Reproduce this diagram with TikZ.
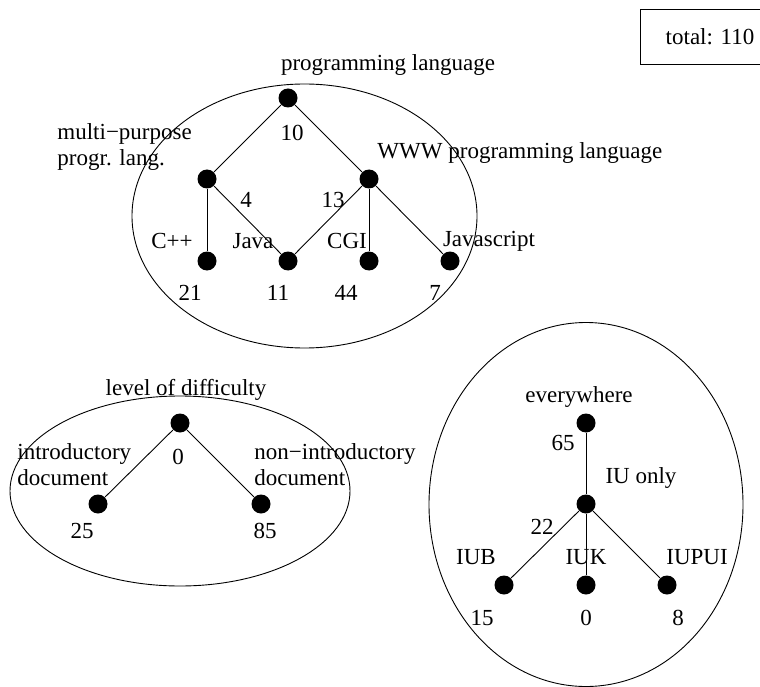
\documentclass[tikz,border=0pt]{standalone}
\usepackage{fontspec}
\setmainfont{Liberation Serif}
\begin{document}
\begin{tikzpicture}[x=1pt, y=-1pt, inner sep=1pt, line width=0.9pt, font=\fontsize{23}{26}\selectfont,
      dot/.style={circle, fill, inner sep=0pt, minimum size=19pt}]
   \useasboundingbox (0,0) rectangle (760,687);
   \node[draw, minimum width=140pt, minimum height=55pt] (T) at (710,36.5) {total: 110};
   % programming language
   \draw (304.5,216) ellipse (172.5 and 132);
   \node[dot] (P) at (288,98) {};
   \node[dot] (P2) at (207,179) {};
   \node[dot] (P3) at (369,179) {};
   \node[dot] (P4) at (207,261) {};
   \node[dot] (P5) at (288,261) {};
   \node[dot] (P6) at (369,261) {};
   \node[dot] (P7) at (450,261) {};
   \draw (P) -- (P2);
   \draw (P) -- (P3);
   \draw (P2) -- (P4);
   \draw (P2) -- (P5);
   \draw (P3) -- (P5);
   \draw (P3) -- (P6);
   \draw (P3) -- (P7);
   \node (Pl) at (388,65) {programming language};
   \node (Pn) at (292,133) {10};
   \node[align=left, anchor=west] (P2l) at (56,147) {multi−purpose\\progr. lang.};
   \node (P2n) at (246,200) {4};
   \node[anchor=west] (P3l) at (376,153) {WWW programming language};
   \node (P3n) at (333,200) {13};
   \node (P4l) at (172,241) {C++};
   \node (P4n) at (190,293) {21};
   \node (P5l) at (253,241) {Java};
   \node (P5n) at (278,293) {11};
   \node (P6l) at (347,241) {CGI};
   \node (P6n) at (346,293) {44};
   \node (P7l) at (489,241) {Javascript};
   \node (P7n) at (435,293) {7};
   % level of difficulty
   \draw (180,491) ellipse (170 and 95);
   \node[dot] (L) at (180,423) {};
   \node[dot] (L2) at (98,504) {};
   \node[dot] (L3) at (261,504) {};
   \draw (L) -- (L2);
   \draw (L) -- (L3);
   \node (Ll) at (186,390) {level of difficulty};
   \node (Ln) at (178,457) {0};
   \node[align=left, anchor=west] (L2l) at (16,465) {introductory\\document};
   \node (L2n) at (82,531) {25};
   \node[align=left, anchor=west] (L3l) at (253,465) {non−introductory\\document};
   \node (L3n) at (265,531) {85};
   % location
   \draw (586,504.5) ellipse (157 and 182);
   \node[dot] (U) at (586,423) {};
   \node[dot] (U2) at (586,504) {};
   \node[dot] (U3) at (504,585) {};
   \node[dot] (U4) at (586,585) {};
   \node[dot] (U5) at (667,585) {};
   \draw (U) -- (U2);
   \draw (U2) -- (U3);
   \draw (U2) -- (U4);
   \draw (U2) -- (U5);
   \node (Ul) at (579,397) {everywhere};
   \node (Un) at (563,443) {65};
   \node (U2l) at (641,478) {IU only};
   \node (U2n) at (542,527) {22};
   \node (U3l) at (476,557) {IUB};
   \node (U3n) at (482,618) {15};
   \node (U4l) at (586,557) {IUK};
   \node (U4n) at (586,618) {0};
   \node (U5l) at (697,557) {IUPUI};
   \node (U5n) at (678,618) {8};
\end{tikzpicture}
\end{document}
